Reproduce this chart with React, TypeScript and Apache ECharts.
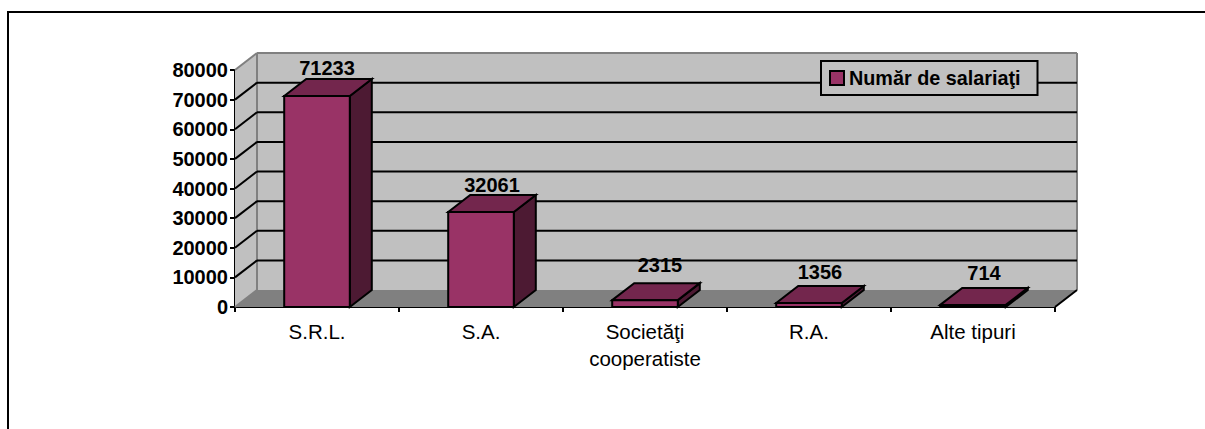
import React, { useEffect, useRef } from "react";
import * as echarts from "echarts";

const categories = ["S.R.L.", "S.A.", "Societăţi\ncooperatiste", "R.A.", "Alte tipuri"];
const salariati = [71233, 32061, 2315, 1356, 714];
const seriesName = "Număr de salariaţi";
const yMax = 80000;
const yStep = 10000;

const FRONT = "#993366";
const TOP = "#73264D";
const SIDE = "#4D1A33";
const WALL = "#C0C0C0";
const FLOOR = "#808080";
const INK = "#000000";
const DX = 22;
const DY = -17;
const FONT = "'Liberation Sans', Arial, sans-serif";

export default function App() {
  const ref = useRef<HTMLDivElement>(null);
  useEffect(() => {
    document.body.style.margin = "0";
    const chart = echarts.init(ref.current!, null, { renderer: "svg" });
    const ticks: number[] = [];
    for (let v = 0; v <= yMax; v += yStep) ticks.push(v);

    const poly = (points: number[][], fill: string, stroke: string | null, lineWidth = 2) => ({
      type: "polygon",
      shape: { points },
      style: { fill, stroke: stroke ?? "none", lineWidth, lineJoin: "miter" },
    });
    const seg = (a: number[], b: number[], stroke: string, lineWidth: number) => ({
      type: "line",
      shape: { x1: a[0], y1: a[1], x2: b[0], y2: b[1] },
      style: { stroke, lineWidth },
    });

    const option: any = {
      animation: false,
      backgroundColor: "#ffffff",
      textStyle: { fontFamily: FONT },
      graphic: [
        {
          type: "polyline",
          shape: { points: [[8, 430], [8, 12], [1206, 12]] },
          style: { fill: "none", stroke: INK, lineWidth: 2 },
          silent: true,
        },
      ],
      legend: {
        show: true,
        left: 821,
        top: 61,
        padding: [7, 17, 7, 8],
        backgroundColor: WALL,
        borderColor: INK,
        borderWidth: 2,
        borderRadius: 0,
        itemWidth: 14,
        itemHeight: 14,
        itemGap: 5,
        data: [{ name: seriesName, icon: "rect", itemStyle: { color: FRONT, borderColor: INK, borderWidth: 2 } }],
        textStyle: { fontFamily: FONT, fontWeight: "bold", fontSize: 19.8, color: INK },
      },
      grid: { left: 235, top: 70, width: 820, height: 237, containLabel: false },
      xAxis: {
        type: "category",
        data: categories,
        boundaryGap: true,
        axisLine: { lineStyle: { color: INK, width: 2 } },
        axisTick: { show: true, alignWithLabel: false, length: 5, lineStyle: { color: INK, width: 2 } },
        axisLabel: { color: "#000", fontFamily: FONT, fontSize: 20.5, margin: 11, lineHeight: 27 },
      },
      yAxis: {
        type: "value",
        min: 0,
        max: yMax,
        interval: yStep,
        splitLine: { show: false },
        axisLine: { show: true, lineStyle: { color: INK, width: 2 } },
        axisTick: { show: true, length: 5, lineStyle: { color: INK, width: 2 } },
        axisLabel: {
          color: "#000",
          fontFamily: FONT,
          fontSize: 20,
          fontWeight: "bold",
          margin: 7,
          formatter: (v: number) => String(v),
        },
      },
      series: [
        {
          type: "custom",
          name: "walls",
          silent: true,
          z: 1,
          legendHoverLink: false,
          data: [0],
          clip: false,
          renderItem: (_p: any, api: any) => {
            const o = api.coord([0, 0]);
            const left = o[0] - api.size([1, 0])[0] / 2;
            const right = left + api.size([1, 0])[0] * categories.length;
            const bottom = o[1];
            const top = api.coord([0, yMax])[1];
            const children: any[] = [
              poly([[left, top], [left + DX, top + DY], [left + DX, bottom + DY], [left, bottom]], WALL, null),
              poly([[left + DX, top + DY], [right + DX, top + DY], [right + DX, bottom + DY], [left + DX, bottom + DY]], WALL, null),
              poly([[left, bottom], [left + DX, bottom + DY], [right + DX, bottom + DY], [right, bottom]], FLOOR, null),
              seg([left + DX, top + DY], [right + DX, top + DY], FLOOR, 2),
              seg([right + DX, top + DY], [right + DX, bottom + DY], FLOOR, 2),
              seg([left + DX, top + DY], [left + DX, bottom + DY], FLOOR, 2),
              seg([left, top], [left + DX, top + DY], FLOOR, 2),
            ];
            ticks.forEach((v) => {
              const y = api.coord([0, v])[1];
              if (v > 0 && v < yMax) {
                children.push(seg([left, y], [left + DX, y + DY], INK, 2));
                children.push(seg([left + DX, y + DY], [right + DX, y + DY], INK, 2));
              }
            });
            children.push(seg([left, bottom], [left + DX, bottom + DY], FLOOR, 2));
            children.push(seg([right, bottom], [right + DX, bottom + DY], INK, 2));
            return { type: "group", children };
          },
          encode: { x: 0 },
        },
        {
          type: "custom",
          name: seriesName,
          z: 3,
          clip: false,
          data: salariati.map((v, i) => [i, v]),
          encode: { x: 0, y: 1 },
          itemStyle: { color: FRONT },
          label: { show: false },
          renderItem: (_p: any, api: any) => {
            const i = api.value(0);
            const v = api.value(1);
            const top = api.coord([i, v]);
            const base = api.coord([i, 0]);
            const w = api.size([1, 0])[0] * 0.4;
            const x0 = base[0] - w / 2;
            const x1 = x0 + w;
            const yt = top[1];
            const yb = base[1];
            // The original's data labels sit a little off their bars, differently for each one.
            const labelShift = [[-1, 2], [0, 3], [4, -5], [0, -1], [0, -2]][i];
            return {
              type: "group",
              children: [
                poly([[x1, yb], [x1 + DX, yb + DY], [x1 + DX, yt + DY], [x1, yt]], SIDE, INK),
                poly([[x0, yt], [x0 + DX, yt + DY], [x1 + DX, yt + DY], [x1, yt]], TOP, INK),
                poly([[x0, yb], [x0, yt], [x1, yt], [x1, yb]], FRONT, INK),
                {
                  type: "text",
                  x: (x0 + x1) / 2 + DX / 2 + labelShift[0],
                  y: yt + DY - 3 + labelShift[1],
                  style: {
                    text: String(v),
                    fill: INK,
                    font: `bold 20px ${FONT}`,
                    align: "center",
                    verticalAlign: "bottom",
                  },
                },
              ],
            };
          },
        },
      ],
    };
    chart.setOption(option);
    return () => chart.dispose();
  }, []);
  return <div ref={ref} style={{ width: 1205, height: 429 }} />;
}
